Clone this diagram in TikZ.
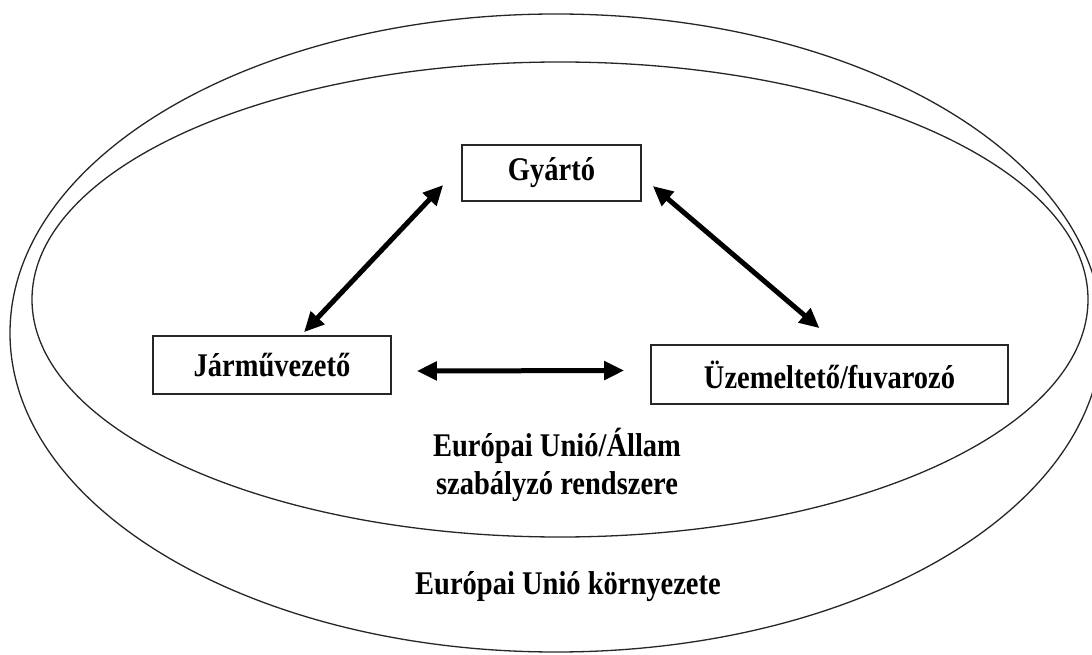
\documentclass[tikz,border=0pt]{standalone}
\usepackage{fontspec}
\usepackage{graphicx}
\setmainfont{Liberation Serif}
\usetikzlibrary{arrows.meta,calc}
\newcommand\tallt[1]{\scalebox{1}[1.16]{#1}}
\begin{document}
\begin{tikzpicture}[x=1pt,y=-1pt,
  lbl/.style={font=\fontsize{28.5}{38}\selectfont\bfseries, inner sep=0pt, align=center},
  boxnode/.style={draw=black!85, line width=1.6pt, inner sep=0pt, font=\fontsize{28.5}{34}\selectfont\bfseries},
  ring/.style={line width=1.3pt, draw=black!85},
  dblarrow/.style={line width=5pt, {Triangle[length=20pt,width=18pt]}-{Triangle[length=20pt,width=18pt]}}
]
\useasboundingbox (0,0) rectangle (1092,655);
% ellipses
\draw[ring] (556,333) ellipse [x radius=546pt, y radius=319pt];
\draw[ring] (560,299.5) ellipse [x radius=528pt, y radius=237.5pt];
% boxes
\node[boxnode, minimum width=179pt, minimum height=56pt] (g) at (551.5,173) {\tallt{Gyártó}};
\node[boxnode, minimum width=238pt, minimum height=58pt] (j) at (272,365) {\tallt{Járművezető}};
\node[boxnode, minimum width=357pt, minimum height=59pt] (u) at (829.5,374.5) {\tallt{Üzemeltető/fuvarozó}};
% arrows
\draw[dblarrow] ($(j.north)+(32,-3)$) -- ($(g.west)+(-18,12)$);
\draw[dblarrow] ($(g.east)+(11,13)$) -- ($(u.north)+(-10,-16)$);
\draw[dblarrow] ($(j.east)+(25,6)$) -- ($(u.west)+(-26,-4)$);
% labels
\node[lbl] (eu) at (557,465) {\tallt{Európai Unió/Állam}\\\tallt{szabályzó rendszere}};
\node[lbl] (env) at (568,587) {\tallt{Európai Unió környezete}};
\end{tikzpicture}
\end{document}
